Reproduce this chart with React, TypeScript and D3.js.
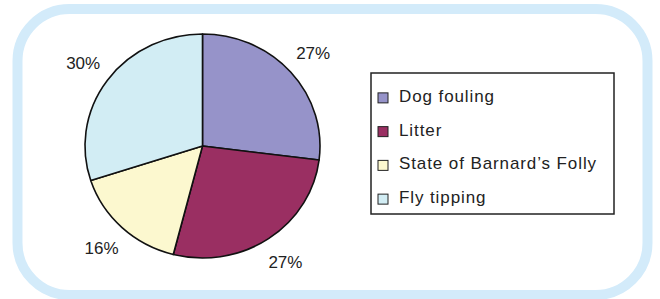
import * as d3 from "d3"
import { useEffect, useRef } from "react"

const categories = ["Dog fouling", "Litter", "State of Barnard\u2019s Folly", "Fly tipping"]
const values = [27, 27, 16, 30]
const labels = ["27%", "27%", "16%", "30%"]
const colors = ["#9693c9", "#9a2f62", "#fcf8cf", "#d2edf4"]

export default function App() {
	const svgRef = useRef<SVGSVGElement>(null)

	useEffect(() => {
		const svg = d3.select(svgRef.current)
		svg.selectAll("*").remove()

		// rounded light blue frame
		svg.append("rect")
			.attr("x", 17.5)
			.attr("y", 9)
			.attr("width", 630)
			.attr("height", 286)
			.attr("rx", 52)
			.attr("fill", "#fff")
			.attr("stroke", "#d3ebfa")
			.attr("stroke-width", 10)

		// pie (slightly squashed vertically like the original)
		const cx = 202.5, cy = 146, rx = 117.5, ry = 112
		const pie = d3.pie<number>().sort(null).value(d => d)
		const arcs = pie(values)
		const arc = d3.arc<d3.PieArcDatum<number>>().innerRadius(0).outerRadius(rx)

		const g = svg.append("g")
			.attr("transform", `translate(${cx},${cy}) scale(1,${ry / rx})`)

		g.selectAll("path")
			.data(arcs)
			.enter()
			.append("path")
			.attr("d", arc)
			.attr("fill", (d, i) => colors[i])
			.attr("stroke", "#111")
			.attr("stroke-width", 1.6)
			.attr("vector-effect", "non-scaling-stroke")
			.attr("stroke-linejoin", "round")

		// percentage labels outside the pie
		const labelArc = d3.arc<d3.PieArcDatum<number>>().innerRadius(rx + 30).outerRadius(rx + 30)
		svg.append("g")
			.selectAll("text")
			.data(arcs)
			.enter()
			.append("text")
			.attr("x", d => cx + labelArc.centroid(d)[0])
			.attr("y", d => cy + labelArc.centroid(d)[1] * ry / rx)
			.attr("text-anchor", "middle")
			.attr("dy", "0.35em")
			.attr("font-family", "Liberation Sans, Arial, sans-serif")
			.attr("font-size", 17)
			.attr("fill", "#222")
			.text((d, i) => labels[i])

		// legend
		const legend = svg.append("g").attr("transform", "translate(371,73)")
		legend.append("rect")
			.attr("width", 243)
			.attr("height", 141)
			.attr("fill", "#fff")
			.attr("stroke", "#222")
			.attr("stroke-width", 1.5)

		const y = d3.scaleBand<string>()
			.domain(categories)
			.range([6, 141])

		const item = legend.selectAll("g.item")
			.data(categories)
			.enter()
			.append("g")
			.attr("class", "item")
			.attr("transform", d => `translate(0,${y(d)! + y.bandwidth() / 2})`)

		item.append("rect")
			.attr("x", 7)
			.attr("y", -3)
			.attr("width", 10)
			.attr("height", 10)
			.attr("fill", (d, i) => colors[i])
			.attr("stroke", "#222")
			.attr("stroke-width", 1)

		item.append("text")
			.attr("x", 28)
			.attr("y", 6)
			.attr("font-family", "Liberation Sans, Arial, sans-serif")
			.attr("font-size", 17)
			.attr("letter-spacing", 0.9)
			.attr("fill", "#222")
			.text(d => d)
	}, [])

	return (
		<svg ref={svgRef} width={660} height={299}
			style={{ position: "absolute", left: 0, top: 0, background: "#fff" }} />
	)
}
